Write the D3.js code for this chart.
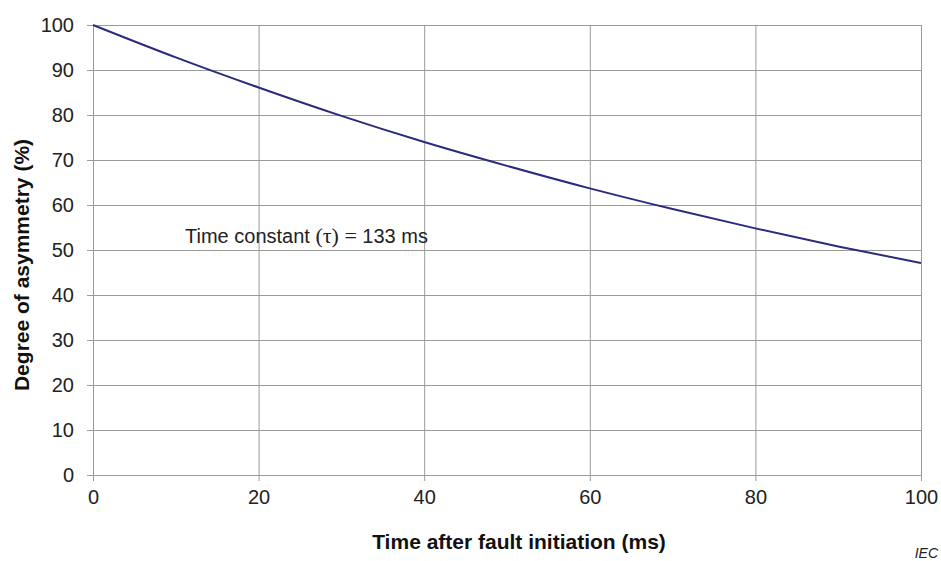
<!DOCTYPE html>
<html>
<head>
<meta charset='utf-8'>
<style>
body { margin: 0; background: #fff; }
svg { display: block; }
.tick text { font-family: "Liberation Sans", Arial, sans-serif; font-size: 20px; fill: #222; }
.grid line { stroke: #9a9a9a; stroke-width: 1px; }
.domain { display: none; }
.title { font-family: "Liberation Sans", Arial, sans-serif; font-size: 21px; font-weight: bold; fill: #111; }
</style>
</head>
<body>
<svg width="941" height="561"></svg>
<script src="https://d3js.org/d3.v7.min.js"></script>
<script>

// values, every 10 ms
var timeMs = [0, 10, 20, 30, 40, 50, 60, 70, 80, 90, 100];
var asymmetry = [100, 92.8, 86.1, 79.8, 74.0, 68.7, 63.7, 59.1, 54.8, 50.8, 47.1];
var xTicks = [0, 20, 40, 60, 80, 100];
var yTicks = [0, 10, 20, 30, 40, 50, 60, 70, 80, 90, 100];

var svg = d3.select('svg'),
    plotL = 93, plotR = 921, plotT = 25, plotB = 475;

var x = d3.scaleLinear().domain([0, 100]).range([plotL, plotR]);
var y = d3.scaleLinear().domain([0, 100]).range([plotB, plotT]);

// horizontal grid + y ticks
var gy = svg.append('g').attr('class', 'grid')
  .attr('transform', 'translate(' + plotL + ',0)')
  .call(d3.axisLeft(y).tickValues(yTicks).tickSize(-(plotR - plotL)).tickSizeOuter(0).tickPadding(0));
gy.selectAll('.tick line').attr('x1', -6);
gy.selectAll('.tick text').attr('x', -19);

// vertical grid + x ticks
var gx = svg.append('g').attr('class', 'grid')
  .attr('transform', 'translate(0,' + plotB + ')')
  .call(d3.axisBottom(x).tickValues(xTicks).tickSize(-(plotB - plotT)).tickSizeOuter(0));
gx.selectAll('.tick line').attr('y1', 6);
gx.selectAll('.tick text').attr('y', 15);

var line = d3.line()
  .x(function(d, i) { return x(timeMs[i]); })
  .y(function(d) { return y(d); })
  .curve(d3.curveMonotoneX);

svg.append('path')
  .datum(asymmetry)
  .attr('fill', 'none')
  .attr('stroke', '#2b2b7e')
  .attr('stroke-width', 2)
  .attr('d', line);

// annotation, tau part in a serif face like the original
var note = svg.append('text')
  .attr('x', 185).attr('y', 243)
  .style('font-family', '"Liberation Sans", Arial, sans-serif')
  .style('font-size', '20px').style('fill', '#222');
note.append('tspan').text('Time constant ');
note.append('tspan')
  .style('font-family', '"Liberation Serif", "Times New Roman", serif')
  .style('font-size', '22px').text('(τ) = ');
note.append('tspan').text('133 ms');

svg.append('text').attr('class', 'title')
  .attr('x', (plotL + plotR) / 2 + 12).attr('y', 549)
  .attr('text-anchor', 'middle')
  .text('Time after fault initiation (ms)');

svg.append('text').attr('class', 'title')
  .attr('transform', 'translate(29,' + ((plotT + plotB) / 2 + 15) + ') rotate(-90)')
  .attr('text-anchor', 'middle')
  .text('Degree of asymmetry (%)');

svg.append('text')
  .attr('x', 938).attr('y', 558)
  .attr('text-anchor', 'end')
  .style('font-family', '"Liberation Sans", Arial, sans-serif')
  .style('font-size', '14px').style('font-style', 'italic').style('fill', '#222')
  .text('IEC');

</script>
</body>
</html>
